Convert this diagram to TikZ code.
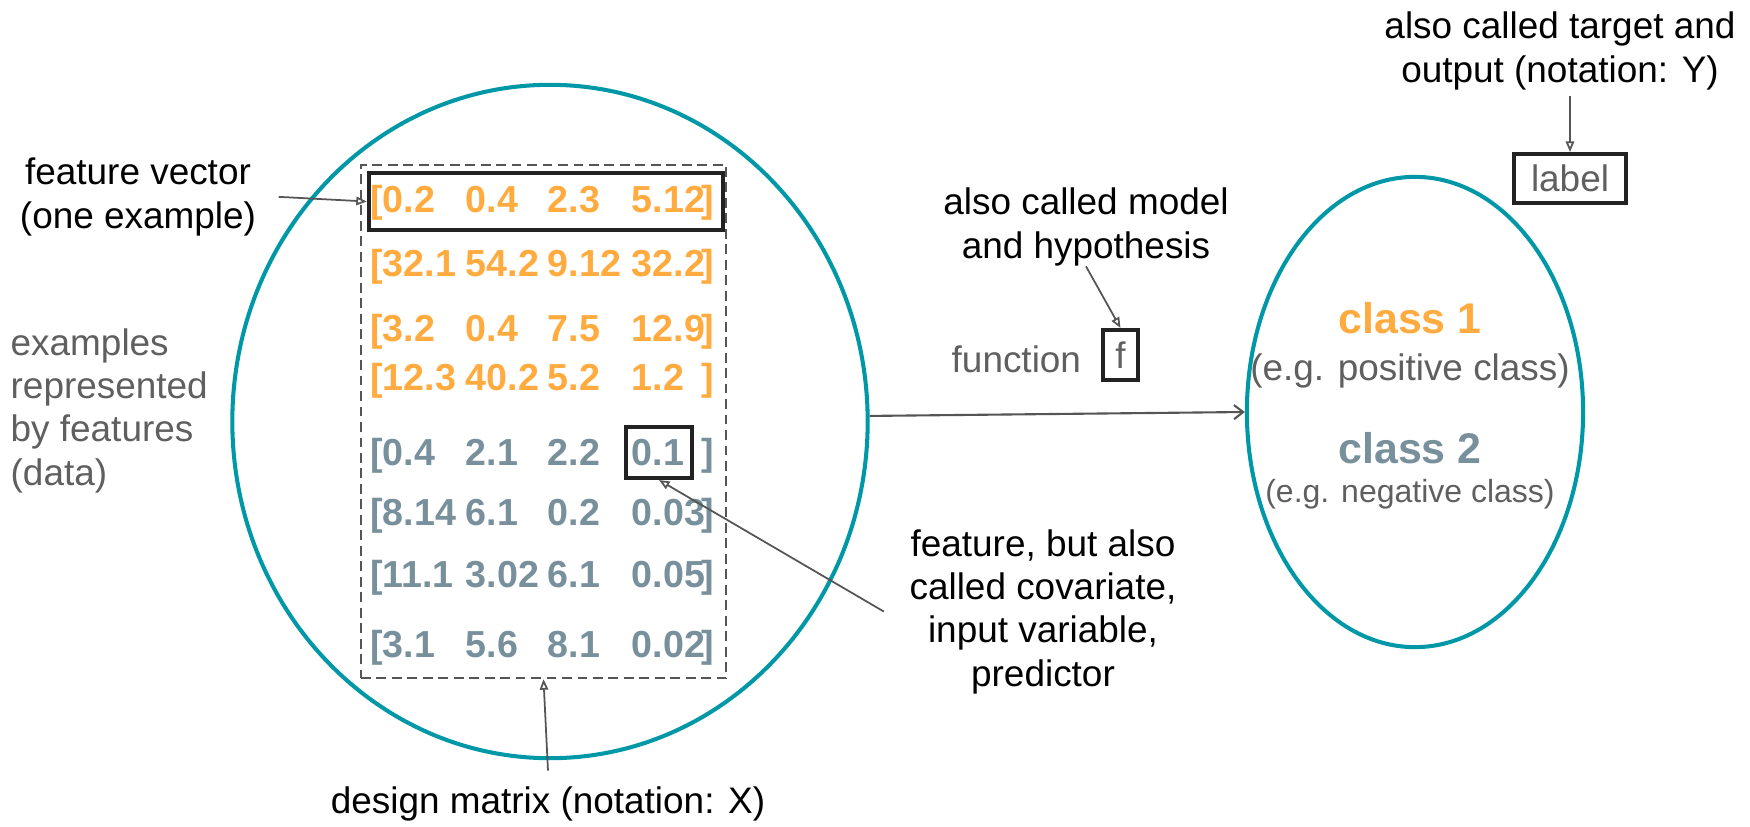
\documentclass[tikz,border=0pt]{standalone}
\usepackage{fontspec}
\setmainfont{Liberation Sans}
\usetikzlibrary{arrows.meta,shapes.geometric}

\definecolor{ringteal}{HTML}{0097A7}
\definecolor{clsorange}{HTML}{FFAB40}
\definecolor{clsslate}{HTML}{78909C}
\definecolor{notegray}{HTML}{5F5F5F}
\definecolor{linegray}{HTML}{555555}
\definecolor{boxblack}{HTML}{222222}

\newcommand{\labfont}{\fontsize{10.5}{12.3}\selectfont}
\newcommand{\matfont}{\fontsize{10.7}{12.3}\selectfont\bfseries}
\newcommand{\clsfont}{\fontsize{12.2}{14}\selectfont\bfseries}
\newcommand{\tinyfont}{\fontsize{9.1}{11}\selectfont}

\begin{document}
\begin{tikzpicture}[
        x=0.01cm, y=-0.01cm,
        note/.style={font=\labfont, align=center, inner sep=0pt},
        num/.style={text=#1, font=\matfont, inner sep=0pt},
        ring/.style={ellipse, draw=ringteal, line width=1.15pt, inner sep=0pt},
        selbox/.style={draw=boxblack, line width=1.15pt, inner sep=0pt},
        dashbox/.style={draw=linegray, line width=0.6pt, dash pattern=on 2.8pt off 1.6pt},
        ptr/.style={draw=linegray, line width=0.5pt, -{Triangle[open, length=3pt, width=2.4pt]}},
        flow/.style={draw=linegray, line width=0.6pt, -{Straight Barb[length=2.6pt, width=4pt]}}
    ]
        \useasboundingbox (0,0) rectangle (1750,827);

        \node[ring, minimum width=6.35cm, minimum height=6.73cm] (data) at (550,421.5) {};
        \node[ring, minimum width=3.36cm, minimum height=4.70cm] (cls) at (1415,412) {};

        % design matrix
        \node[dashbox, minimum width=3.65cm, minimum height=5.13cm] (mat) at (543.5,421.5) {};
        \node[selbox, minimum width=3.54cm, minimum height=0.57cm] (fv) at (546,201.5) {};
        \node[selbox, minimum width=0.66cm, minimum height=0.51cm] (sel) at (659,452.5) {};
        \foreach \yb/\a/\b/\c/\d/\col [count=\i] in {
                212/0.2/0.4/2.3/5.12/clsorange,
                276/32.1/54.2/9.12/32.2/clsorange,
                341/3.2/0.4/7.5/12.9/clsorange,
                390/12.3/40.2/5.2/1.2/clsorange,
                465/0.4/2.1/2.2/0.1/clsslate,
                525/8.14/6.1/0.2/0.03/clsslate,
                587/11.1/3.02/6.1/0.05/clsslate,
                657/3.1/5.6/8.1/0.02/clsslate}{
            \node[num=\col, anchor=base west] (lb\i) at (370,\yb) {[};
            \node[num=\col, anchor=base west] (e\i a) at (382,\yb) {\a};
            \node[num=\col, anchor=base west] (e\i b) at (465,\yb) {\b};
            \node[num=\col, anchor=base west] (e\i c) at (547,\yb) {\c};
            \node[num=\col, anchor=base west] (e\i d) at (631,\yb) {\d};
            \node[num=\col, anchor=base east] (rb\i) at (715,\yb) {]};
        }

        % multi-line notes sit on their last baseline
        \node[note, anchor=base] (fvlab) at (138,228) {feature vector\\(one example)};
        \node[note, text=notegray, align=left, anchor=base west] (exlab) at (10,485) {examples\\represented\\by features\\(data)};
        \node[note, anchor=base] (hyplab) at (1086,258) {also called model\\and hypothesis};
        \node[note, text=notegray, anchor=base west] (funlab) at (951,372) {function};
        \node[selbox, minimum width=0.35cm, minimum height=0.50cm, text=notegray, font=\labfont] (fbox) at (1120.5,355) {f};
        \node[note, anchor=base] (tarlab) at (1560,82) {also called target and\\output (notation: Y)};
        \node[selbox, minimum width=1.12cm, minimum height=0.49cm, text=notegray, font=\labfont] (lbl) at (1570,178.5) {label};
        \node[note, anchor=base] (covlab) at (1043,686) {feature, but also\\called covariate,\\input variable,\\predictor};
        \node[note, anchor=base] (dmlab) at (548,813) {design matrix (notation: X)};

        \node[note, text=clsorange, font=\clsfont, anchor=base] (c1) at (1410,333) {class 1};
        \node[note, text=notegray, anchor=base] (pos) at (1410,380) {(e.g. positive class)};
        \node[note, text=clsslate, font=\clsfont, anchor=base] (c2) at (1410,463) {class 2};
        \node[note, text=notegray, font=\tinyfont, anchor=base] (neg) at (1410,502) {(e.g. negative class)};

        \draw[ptr] ([xshift=0.22cm]fvlab.east) -- (fv.west);
        \draw[ptr] (hyplab.south) -- (fbox.north);
        \draw[ptr] ([yshift=-0.06cm]lbl.north |- tarlab.south) -- (lbl.north);
        \draw[ptr] ([xshift=-0.25cm]covlab.west) -- (sel.south);
        \draw[ptr] ([yshift=0.15cm]dmlab.north) -- (mat.south);
        \draw[flow] (data.1) -- (cls.west);
    \end{tikzpicture}
\end{document}
